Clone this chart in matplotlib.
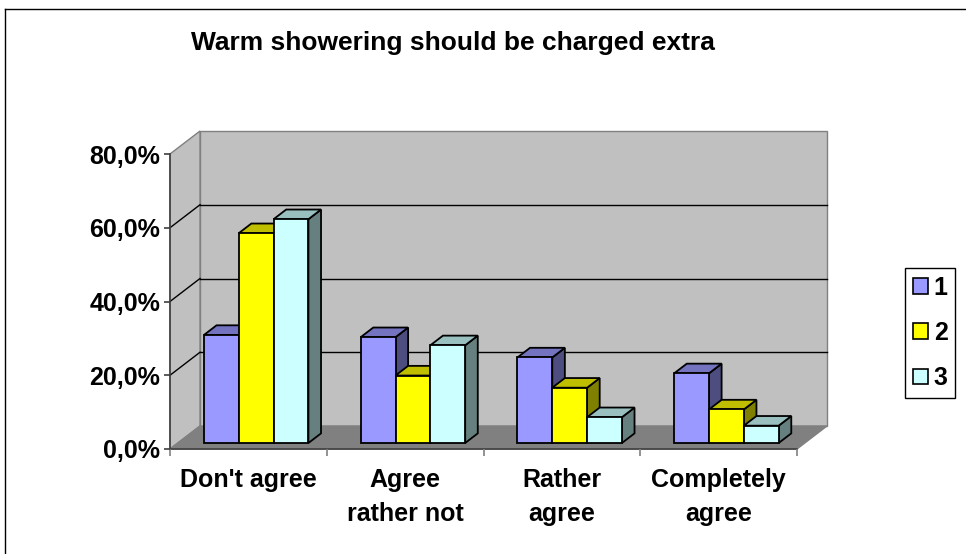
import matplotlib.pyplot as plt
from matplotlib.patches import Polygon, Patch
from matplotlib.lines import Line2D
from matplotlib.colors import to_rgb

categories = ["Don't agree", "Agree\nrather not", "Rather\nagree", "Completely\nagree"]
series_names = ["1", "2", "3"]
series_1 = [29.3, 28.7, 23.2, 18.9]
series_2 = [56.9, 18.3, 15.0, 9.1]
series_3 = [60.7, 26.5, 7.0, 4.7]
y_ticks = [0, 20, 40, 60, 80]

colors = ["#9999FF", "#FFFF00", "#CCFFFF"]

plt.rcParams['font.family'] = 'Liberation Sans'
plt.rcParams['font.weight'] = 'bold'

W, H = 966, 554
fig = plt.figure(figsize=(W / 100, H / 100), dpi=100)
fig.patch.set_facecolor('white')

# front plane of the plot box (pixels): x 170..797, y 449..154
ax = fig.add_axes([170 / W, (H - 449) / H, 627 / W, 295 / H])
ax.set_xlim(0, 4)
ax.set_ylim(0, 80)
ax.patch.set_visible(False)

# depth of the box, in data units
DX = 30 / (627 / 4)
DY = 23 / (295 / 80)
ymax = y_ticks[-1]
n_cat = len(categories)


def shade(c, k):
    r, g, b = to_rgb(c)
    return (r * k, g * k, b * k)


def poly(pts, fc, ec, lw, z):
    p = Polygon(pts, closed=True, facecolor=fc, edgecolor=ec, linewidth=lw,
                zorder=z, clip_on=False, joinstyle='miter')
    ax.add_patch(p)


# walls and floor
wall = '#C0C0C0'
edge = '#808080'
poly([(DX, DY), (n_cat + DX, DY), (n_cat + DX, ymax + DY), (DX, ymax + DY)], wall, edge, 1, 0)
poly([(0, 0), (DX, DY), (DX, ymax + DY), (0, ymax)], wall, edge, 1, 0)
poly([(0, 0), (n_cat, 0), (n_cat + DX, DY), (DX, DY)], '#808080', edge, 1, 0.5)

# gridlines on back and side wall
for v in y_ticks[1:-1]:
    ax.add_line(Line2D([DX, n_cat + DX], [v + DY, v + DY], color='black', lw=1, zorder=0.3, clip_on=False))
    ax.add_line(Line2D([0, DX], [v, v + DY], color='black', lw=1, zorder=0.3, clip_on=False))

# 3D-looking columns
f0, f1 = 0.26, 0.68
bar_w = 1 / 4.5
values = [series_1, series_2, series_3]
z = 2
for ci in range(n_cat):
    x_start = ci + 0.5 - 1.5 * bar_w
    for si, vals in enumerate(values):
        v = vals[ci]
        x0 = x_start + si * bar_w
        x1 = x0 + bar_w
        c = colors[si]
        front = [(x0 + f0 * DX, f0 * DY), (x1 + f0 * DX, f0 * DY),
                 (x1 + f0 * DX, v + f0 * DY), (x0 + f0 * DX, v + f0 * DY)]
        top = [(x0 + f0 * DX, v + f0 * DY), (x1 + f0 * DX, v + f0 * DY),
               (x1 + f1 * DX, v + f1 * DY), (x0 + f1 * DX, v + f1 * DY)]
        side = [(x1 + f0 * DX, f0 * DY), (x1 + f1 * DX, f1 * DY),
                (x1 + f1 * DX, v + f1 * DY), (x1 + f0 * DX, v + f0 * DY)]
        poly(side, shade(c, 0.5), 'black', 1.3, z)
        poly(top, shade(c, 0.75), 'black', 1.3, z)
        poly(front, c, 'black', 1.3, z)
        z += 1

# axes
for s in ['top', 'right']:
    ax.spines[s].set_visible(False)
for s in ['left', 'bottom']:
    ax.spines[s].set_color('#404040')
    ax.spines[s].set_linewidth(1.2)
    ax.spines[s].set_zorder(1)

ax.set_yticks(y_ticks, [f"{v:.1f}%".replace('.', ',') for v in y_ticks])
ax.tick_params(axis='y', length=4, width=1.2, color='#404040', pad=3, labelsize=18)

ax.set_xticks([i + 0.5 for i in range(n_cat)], categories)
ax.set_xticks(range(n_cat + 1), minor=True)
ax.tick_params(axis='x', which='major', length=0, pad=14, labelsize=18)
ax.tick_params(axis='x', which='minor', length=5, width=1.2, color='#808080', direction='out')
for lab in ax.get_xticklabels():
    lab.set_linespacing(1.5)

# title
fig.text(453 / W, 1 - 50 / H, "Warm showering should be charged extra",
         ha='center', va='baseline', fontsize=19, fontweight='bold')

# legend
handles = [Patch(facecolor=c, edgecolor='black', linewidth=1.2) for c in colors]
leg = fig.legend(handles, series_names, loc='center left',
                 bbox_to_anchor=(905 / W, 1 - 333 / H), borderaxespad=0,
                 fontsize=18, handlelength=0.6, handleheight=0.6,
                 handletextpad=0.25, labelspacing=0.85, borderpad=0.3,
                 fancybox=False, shadow=False, framealpha=1)
leg.get_frame().set_edgecolor('black')
leg.get_frame().set_linewidth(1)

# chart area border
fig.add_artist(Line2D([5 / W, 5 / W], [0, 1 - 9 / H], color='black', lw=1, transform=fig.transFigure))
fig.add_artist(Line2D([5 / W, 1], [1 - 9 / H, 1 - 9 / H], color='black', lw=1, transform=fig.transFigure))

fig.savefig('out.png', dpi=100)
